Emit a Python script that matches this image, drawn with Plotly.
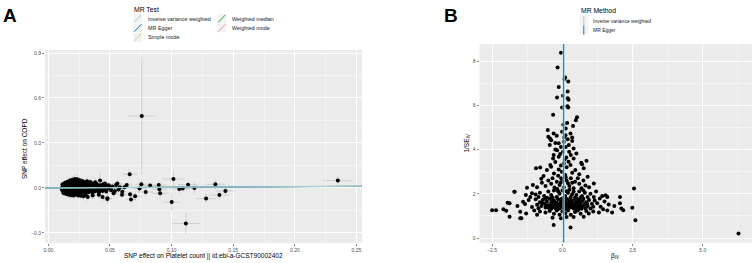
import plotly.graph_objects as go

# ---------------- Panel A data: SNP effects (exposure vs outcome) ----------------
cl_x = [0.011,0.011,0.012,0.012,0.012,0.013,0.013,0.013,0.014,0.014,
        0.014,0.015,0.015,0.015,0.016,0.016,0.016,0.017,0.017,0.017,
        0.018,0.018,0.018,0.019,0.019,0.019,0.020,0.020,0.020,0.021,
        0.021,0.021,0.022,0.022,0.022,0.023,0.023,0.023,0.024,0.024,
        0.024,0.025,0.025,0.025,0.026,0.026,0.026,0.027,0.027,0.027,
        0.028,0.028,0.028,0.029,0.029,0.030,0.030,0.030,0.031,0.031,
        0.032,0.032,0.033,0.033,0.034,0.034,0.035,0.035,0.036,0.036,
        0.037,0.038,0.038,0.039,0.040,0.040,0.041,0.042,0.042,0.043,
        0.044,0.045,0.046,0.047,0.048,0.049,0.050,0.0115,0.0125,0.0135,
        0.0145,0.0155,0.0165,0.0175,0.0185,0.0195,0.0205,0.0215,0.0225,0.0235,
        0.0245,0.0255,0.0265,0.0275,0.0285,0.0295,0.0305,0.0315,0.032,0.034,
        0.036,0.038,0.041,0.044,0.046,0.048,0.0125,0.0135,0.0155,0.0165,
        0.0175,0.0195,0.0205,0.0215,0.0225,0.0235,0.0245,0.0255,0.0265,0.0275,
        0.0285,0.0295,0.0305,0.0315,0.033,0.035,0.037,0.039,0.040,0.042,
        0.044,0.045,0.047,0.049,0.052,0.054,0.055,0.057,0.058,0.060,
        0.053,0.056,0.051,0.042,0.0145,0.0165,0.0185,0.0205,0.0225,0.0245]
cl_y = [0.002,-0.012,0.015,-0.025,0.005,-0.005,0.022,-0.018,0.010,-0.030,
        0.000,0.018,-0.012,0.030,-0.022,0.006,-0.004,0.026,-0.034,0.012,
        -0.015,0.002,0.035,-0.026,0.020,-0.008,0.008,-0.038,0.028,-0.018,
        0.000,0.045,0.015,-0.028,-0.006,0.032,-0.015,0.006,-0.035,0.022,
        -0.002,0.012,-0.022,0.040,-0.010,0.028,-0.042,0.004,0.018,-0.030,
        -0.016,0.034,0.000,0.012,-0.024,0.024,-0.006,-0.040,0.008,-0.018,
        0.030,-0.010,0.016,-0.028,0.002,0.025,-0.015,0.010,-0.032,0.020,
        -0.004,0.014,-0.022,0.028,-0.008,0.006,-0.030,0.018,-0.016,0.004,
        0.022,-0.012,0.010,-0.024,0.015,-0.004,0.008,0.025,-0.035,0.035,
        -0.040,0.042,-0.045,0.050,-0.048,0.055,-0.050,0.060,-0.045,0.058,
        -0.050,0.052,-0.052,0.046,-0.055,0.040,-0.048,0.045,-0.060,0.040,
        -0.050,0.038,-0.045,-0.060,0.030,-0.068,0.000,0.008,-0.008,0.016,
        -0.002,0.002,0.018,-0.012,0.024,-0.002,0.010,-0.030,0.010,-0.020,
        0.022,-0.012,0.016,-0.026,0.000,0.032,0.012,-0.012,0.020,0.000,
        -0.020,0.026,0.002,0.018,0.010,-0.020,0.020,-0.010,0.005,-0.025,
        -0.035,0.030,-0.015,0.050,0.020,-0.028,0.024,-0.030,0.038,-0.040]
cl_sx = [0.0018,0.0015,0.0020,0.0017,0.0016,0.0019,0.0021,0.0018,0.0020,0.0022,
         0.0017,0.0019,0.0016,0.0023,0.0020,0.0018,0.0017,0.0021,0.0024,0.0019,
         0.0020,0.0018,0.0025,0.0022,0.0019,0.0018,0.0021,0.0026,0.0023,0.0020,
         0.0019,0.0030,0.0021,0.0024,0.0020,0.0025,0.0022,0.0019,0.0027,0.0023,
         0.0021,0.0022,0.0024,0.0029,0.0021,0.0025,0.0030,0.0020,0.0023,0.0026,
         0.0023,0.0028,0.0021,0.0024,0.0026,0.0025,0.0022,0.0031,0.0023,0.0025,
         0.0029,0.0024,0.0026,0.0028,0.0024,0.0027,0.0026,0.0025,0.0030,0.0027,
         0.0026,0.0028,0.0030,0.0031,0.0027,0.0026,0.0032,0.0029,0.0030,0.0028,
         0.0031,0.0030,0.0029,0.0033,0.0031,0.0030,0.0032,0.0020,0.0022,0.0024,
         0.0024,0.0027,0.0026,0.0030,0.0028,0.0031,0.0029,0.0033,0.0030,0.0032,
         0.0031,0.0030,0.0033,0.0029,0.0034,0.0028,0.0032,0.0030,0.0035,0.0031,
         0.0033,0.0030,0.0034,0.0036,0.0031,0.0037,0.0016,0.0018,0.0019,0.0020,
         0.0019,0.0021,0.0020,0.0022,0.0021,0.0023,0.0022,0.0025,0.0023,0.0024,
         0.0025,0.0024,0.0026,0.0027,0.0025,0.0028,0.0027,0.0029,0.0028,0.0030,
         0.0031,0.0029,0.0030,0.0032,0.0036,0.0038,0.0040,0.0035,0.0037,0.0042,
         0.0038,0.0041,0.0036,0.0030,0.0019,0.0020,0.0021,0.0022,0.0023,0.0024]
cl_sy = [0.011,0.010,0.012,0.013,0.009,0.010,0.012,0.011,0.010,0.013,
         0.009,0.012,0.010,0.014,0.012,0.010,0.009,0.013,0.015,0.011,
         0.011,0.010,0.016,0.013,0.012,0.010,0.011,0.016,0.014,0.012,
         0.010,0.022,0.012,0.014,0.011,0.015,0.012,0.010,0.016,0.013,
         0.010,0.012,0.014,0.018,0.011,0.015,0.019,0.010,0.012,0.015,
         0.013,0.017,0.011,0.012,0.014,0.014,0.011,0.019,0.012,0.014,
         0.016,0.012,0.013,0.016,0.012,0.015,0.014,0.012,0.018,0.014,
         0.012,0.014,0.015,0.017,0.013,0.012,0.018,0.015,0.016,0.013,
         0.016,0.015,0.014,0.018,0.016,0.014,0.015,0.014,0.018,0.018,
         0.020,0.021,0.022,0.024,0.023,0.025,0.024,0.028,0.022,0.026,
         0.024,0.025,0.026,0.023,0.027,0.022,0.025,0.024,0.030,0.024,
         0.027,0.022,0.026,0.030,0.020,0.032,0.009,0.010,0.010,0.011,
         0.010,0.010,0.012,0.011,0.013,0.011,0.012,0.014,0.012,0.013,
         0.014,0.012,0.014,0.015,0.012,0.017,0.014,0.016,0.015,0.016,
         0.017,0.018,0.016,0.019,0.020,0.022,0.021,0.018,0.019,0.024,
         0.022,0.023,0.020,0.050,0.012,0.014,0.013,0.015,0.014,0.016]

sp_x = [0.0758,0.0660,0.1015,0.1001,0.1116,0.0479,0.0598,0.0704,0.0671,0.0663,
        0.0636,0.0617,0.0755,0.0740,0.0790,0.0826,0.0896,0.0901,0.0907,0.1063,
        0.1090,0.1134,0.1185,0.1280,0.1356,0.1388,0.1437,0.2349]
sp_y = [0.480,0.092,0.060,-0.094,-0.237,-0.073,-0.045,-0.055,-0.077,-0.042,
        0.020,0.004,0.024,-0.004,-0.027,0.016,0.020,-0.009,-0.036,-0.007,
        -0.004,0.022,0.000,-0.071,0.024,-0.047,-0.020,0.049]
sp_sx = [0.011,0.006,0.009,0.007,0.011,0.004,0.004,0.005,0.004,0.005,
         0.005,0.004,0.005,0.005,0.006,0.006,0.006,0.006,0.007,0.007,
         0.006,0.008,0.007,0.008,0.008,0.008,0.008,0.012]
sp_sy = [0.390,0.030,0.050,0.060,0.070,0.030,0.020,0.030,0.030,0.020,
         0.020,0.020,0.030,0.020,0.030,0.020,0.030,0.020,0.030,0.030,
         0.020,0.030,0.040,0.030,0.030,0.030,0.030,0.030]

methods_a = ["Inverse variance weighted", "MR Egger", "Simple mode",
             "Weighted median", "Weighted mode"]
colors_a = ["#a6cee3", "#1f78b4", "#b2df8a", "#33a02c", "#fb9a99"]
slopes_a = [0.045, 0.040, 0.047, 0.043, 0.046]
intercepts_a = [0.0, 0.0008, 0.0, 0.0, 0.0]

# ---------------- Panel B data: funnel plot ----------------
beta_iv = [-0.05,-0.17,0.10,0.21,0.07,-0.13,0.19,0.02,-0.19,0.19,
           0.22,0.18,0.21,-0.01,-0.33,0.52,0.48,0.17,0.38,0.03,
           -0.52,-0.31,-0.01,0.11,0.29,-0.50,-0.44,0.35,0.06,-0.20,
           -0.40,-0.45,-0.25,-0.13,0.19,0.35,0.23,0.12,-0.05,-0.19,
           0.02,0.24,0.50,-0.31,-0.13,0.14,0.40,-0.33,0.40,-0.25,
           0.05,-0.08,0.30,0.08,0.86,0.70,0.67,-0.25,0.05,0.29,
           -0.43,-0.94,-0.79,-0.55,-0.13,0.46,0.76,-0.40,0.15,-0.02,
           0.35,-0.30,0.60,-0.67,0.90,0.10,-0.15,0.22,-0.05,0.12,
           -0.73,1.12,2.55,-1.26,-0.90,-0.50,-0.35,-0.20,0.00,0.15,
           0.30,0.45,0.60,0.75,-0.60,-0.10,0.05,0.25,0.40,0.95,
           -0.40,-0.28,0.55,-0.75,0.20,-0.05,0.82,-1.05,0.12,0.68,
           -0.18,0.35,-1.70,-1.14,-0.95,1.60,1.54,1.42,1.33,2.05,
           1.12,-0.80,-0.65,-0.50,-0.40,-0.30,-0.20,-0.10,0.00,0.10,
           0.20,0.30,0.40,0.50,0.60,0.70,0.80,0.90,1.00,-1.30,
           -0.55,0.05,0.25,0.45,0.65,-0.85,1.20,-0.15,0.15,0.35,
           -0.35,0.75,-2.50,-2.36,-2.10,-2.00,-1.95,-1.88,-1.50,-1.40,
           -1.33,-1.08,-1.60,-1.20,2.49,2.10,2.05,2.17,1.77,1.65,
           1.36,1.24,1.00,1.85,1.50,1.15,1.45,-0.95,-0.90,-0.85,
           -0.80,-0.75,-0.70,-0.65,-0.60,-0.55,-0.50,-0.45,-0.40,-0.40,
           -0.35,-0.30,-0.30,-0.25,-0.20,-0.20,-0.15,-0.12,-0.10,-0.05,
           -0.02,0.00,0.03,0.05,0.08,0.10,0.12,0.15,0.18,0.20,
           0.22,0.25,0.28,0.30,0.33,0.35,0.38,0.40,0.43,0.45,
           0.48,0.50,0.55,0.58,0.60,0.65,0.70,0.72,0.78,0.82,
           0.85,0.90,0.95,1.05,1.10,-0.62,-0.48,-0.38,-0.28,-0.18,
           -0.08,0.02,0.12,0.20,0.27,0.37,0.47,0.52,0.62,0.68,
           -0.72,-0.58,-0.22,-0.02,0.07,0.32,0.42,0.57,0.75,0.88,
           -0.42,-0.12,0.15,-1.88,-1.50,-1.29,0.94,0.76,0.40,2.60,
           -0.80,-0.60,-0.45,-0.30,-0.20,-0.10,0.00,0.10,0.20,0.30,
           0.45,0.55,0.65,0.85,1.10,1.30,-1.00,-0.90,0.15,-0.05,
           1.60,-0.35,0.05,-0.31,0.29,6.27,-1.08,-1.46,-1.71,-0.04]
inv_se = [8.38,7.71,7.26,7.07,7.19,6.83,6.62,6.43,6.35,6.32,
          6.25,5.96,5.90,5.90,5.57,5.46,5.32,5.20,5.06,5.12,
          4.88,4.73,4.80,4.65,4.73,4.58,4.50,4.55,4.55,4.62,
          4.42,4.20,4.30,4.28,4.46,4.39,4.20,4.12,4.12,3.97,
          3.90,3.90,3.82,3.75,3.67,3.64,3.60,3.60,4.05,4.00,
          4.35,3.80,3.75,3.55,3.49,3.34,3.40,3.44,3.37,3.30,
          3.30,3.15,3.19,3.07,3.10,3.07,3.15,3.22,3.20,3.00,
          2.95,2.92,2.88,2.80,2.77,2.85,2.82,3.45,3.28,4.95,
          2.50,2.47,2.24,2.27,2.30,2.60,2.70,2.55,2.65,2.60,
          2.70,2.55,2.45,2.60,2.35,2.40,2.30,2.35,2.25,2.30,
          2.45,2.28,2.70,2.68,2.48,2.52,2.38,2.40,2.75,2.25,
          2.22,2.50,2.09,1.86,1.97,1.86,1.93,1.90,1.79,1.86,
          1.86,2.05,1.90,2.10,1.95,2.15,1.85,2.00,2.15,1.90,
          2.05,1.85,2.10,1.95,2.10,1.90,2.05,1.85,2.00,1.95,
          1.82,1.82,2.18,1.82,1.83,1.85,2.10,2.12,2.12,1.98,
          1.83,2.15,1.26,1.26,1.30,1.23,1.60,1.57,1.19,1.64,
          1.54,1.40,1.45,1.72,1.37,1.34,1.57,1.26,1.16,1.52,
          1.41,1.57,1.34,1.45,1.65,1.70,1.30,1.75,1.50,1.35,
          1.62,1.45,1.72,1.55,1.38,1.65,1.48,1.78,1.32,1.58,
          1.42,1.70,1.50,1.35,1.60,1.42,1.75,1.52,1.33,1.65,
          1.45,1.58,1.36,1.72,1.50,1.40,1.62,1.32,1.55,1.75,
          1.45,1.62,1.38,1.52,1.70,1.42,1.60,1.33,1.50,1.75,
          1.40,1.62,1.48,1.35,1.70,1.55,1.42,1.68,1.50,1.35,
          1.62,1.45,1.72,1.55,1.42,1.78,1.36,1.68,1.62,1.30,
          1.55,1.68,1.78,1.35,1.72,1.52,1.32,1.78,1.45,1.32,
          1.58,1.48,1.52,1.78,1.62,1.62,1.42,1.58,1.78,1.55,
          1.48,1.42,1.48,0.96,0.90,1.11,1.11,0.96,0.95,0.81,
          1.20,1.15,1.22,1.10,1.25,1.05,1.20,1.12,1.25,1.05,
          1.18,1.25,1.10,1.22,1.20,1.15,1.25,1.05,0.95,0.90,
          1.25,0.92,1.28,0.59,0.48,0.21,2.02,0.89,2.09,2.70]

methods_b = ["Inverse variance weighted", "MR Egger"]
colors_b = ["#a6cee3", "#1f78b4"]
estimates_b = [0.045, 0.040]

# ---------------- layout constants ----------------
W, H = 753, 263
FONT = "Liberation Sans"
BG = "#EBEBEB"
TICKC = "#4D4D4D"
XR_A = [-0.0027, 0.2545]
YR_A = [-0.367, 0.92]
XR_B = [-2.95, 6.75]
YR_B = [-0.21, 8.77]


def px(x):
    return x / W


def py(y):
    return 1 - y / H


fig = go.Figure()

# Panel A points with error bars
all_x = cl_x + sp_x
all_y = cl_y + sp_y
all_sx = cl_sx + sp_sx
all_sy = cl_sy + sp_sy
fig.add_trace(go.Scatter(
    x=all_x, y=all_y, mode="markers", xaxis="x", yaxis="y",
    marker=dict(color="black", size=4, line=dict(width=0)),
    error_x=dict(type="data", array=all_sx, color="#BEBEBE", thickness=0.6, width=0),
    error_y=dict(type="data", array=all_sy, color="#BEBEBE", thickness=0.6, width=0),
    showlegend=False, hoverinfo="skip"))

# Panel A regression lines (drawn so that IVW ends up on top)
order_a = [4, 3, 2, 1, 0]
for i in order_a:
    fig.add_trace(go.Scatter(
        x=XR_A, y=[intercepts_a[i] + slopes_a[i] * XR_A[0],
                   intercepts_a[i] + slopes_a[i] * XR_A[1]], mode="lines",
        xaxis="x", yaxis="y", line=dict(color=colors_a[i], width=1),
        name=methods_a[i], showlegend=False, hoverinfo="skip"))

# Panel B points
fig.add_trace(go.Scatter(
    x=beta_iv, y=inv_se, mode="markers", xaxis="x2", yaxis="y2",
    marker=dict(color="black", size=4, line=dict(width=0)),
    showlegend=False, hoverinfo="skip"))

# Panel B vertical lines
for m, c, e, w in zip(methods_b, colors_b, estimates_b, [2.2, 0.9]):
    fig.add_trace(go.Scatter(
        x=[e, e], y=YR_B, mode="lines", xaxis="x2", yaxis="y2",
        line=dict(color=c, width=w), name=m, showlegend=False, hoverinfo="skip"))

axis_common = dict(
    showgrid=True, gridcolor="white", gridwidth=1, zeroline=False,
    ticks="outside", ticklen=2, tickwidth=0.6, tickcolor="#333333",
    tickfont=dict(family=FONT, size=5, color=TICKC),
    showline=False, automargin=False,
)

fig.update_layout(
    width=W, height=H,
    margin=dict(l=0, r=0, t=0, b=0, autoexpand=False),
    paper_bgcolor="white", plot_bgcolor=BG,
    font=dict(family=FONT, color="black"),
    showlegend=False,
    xaxis=dict(domain=[px(45), px(362)], range=XR_A, anchor="y",
               tick0=0, dtick=0.05, tickformat=".2f",
               minor=dict(dtick=0.025, showgrid=True, gridcolor="white", gridwidth=0.4),
               **axis_common),
    yaxis=dict(domain=[py(243), py(50)], range=YR_A, anchor="x",
               tick0=0, dtick=0.3, tickformat=".1f",
               minor=dict(dtick=0.15, showgrid=True, gridcolor="white", gridwidth=0.4),
               **axis_common),
    xaxis2=dict(domain=[px(479.5), px(752)], range=XR_B, anchor="y2",
                tick0=0, dtick=2.5, tickformat=".1f",
                minor=dict(dtick=1.25, showgrid=True, gridcolor="white", gridwidth=0.4),
                **axis_common),
    yaxis2=dict(domain=[py(242.7), py(44)], range=YR_B, anchor="x2",
                tick0=0, dtick=2, tickformat="d",
                minor=dict(dtick=1, showgrid=True, gridcolor="white", gridwidth=0.4),
                **axis_common),
)

shapes = []
annotations = []

# axis titles
title_font = dict(family=FONT, size=6.5, color="black")
annotations += [
    dict(x=px(203.5), y=py(256.3), xref="paper", yref="paper", showarrow=False,
         text="SNP effect on Platelet count || id:ebi-a-GCST90002402",
         xanchor="center", yanchor="middle", font=title_font),
    dict(x=px(24.5), y=py(148.5), xref="paper", yref="paper", showarrow=False,
         text="SNP effect on COPD", textangle=-90,
         xanchor="center", yanchor="middle", font=title_font),
    dict(x=px(615.5), y=py(255.5), xref="paper", yref="paper", showarrow=False,
         text="β<sub>IV</sub>", xanchor="center", yanchor="middle", font=title_font),
    dict(x=px(467.3), y=py(143.3), xref="paper", yref="paper", showarrow=False,
         text="1/SE<sub>IV</sub>", textangle=-90,
         xanchor="center", yanchor="middle", font=title_font),
]

# panel labels
for lab, xx in (("A", 9.5), ("B", 450.5)):
    annotations.append(dict(x=px(xx), y=py(15.5), xref="paper", yref="paper",
                            text="<b>%s</b>" % lab, showarrow=False,
                            font=dict(family=FONT, size=19, color="black"),
                            xanchor="center", yanchor="middle"))

# Legend A (MR Test) drawn by hand to mimic ggplot keys
annotations.append(dict(x=px(131.5), y=py(9.5), xref="paper", yref="paper",
                        text="MR Test", showarrow=False, xanchor="left", yanchor="middle",
                        font=dict(family=FONT, size=6.8, color="black")))
key_pos_a = [(133.3, 14.0), (133.3, 23.3), (133.3, 32.6), (217.3, 14.0), (217.3, 23.3)]
for (kx, ky), m, c in zip(key_pos_a, methods_a, colors_a):
    kw, kh = 9.0, 9.3
    shapes.append(dict(type="rect", xref="paper", yref="paper",
                       x0=px(kx), x1=px(kx + kw), y0=py(ky + kh), y1=py(ky),
                       fillcolor="#F2F2F2", line=dict(width=0.5, color="white")))
    shapes.append(dict(type="line", xref="paper", yref="paper",
                       x0=px(kx + 0.8), x1=px(kx + kw - 0.8), y0=py(ky + kh - 0.8), y1=py(ky + 0.8),
                       line=dict(color=c, width=1)))
    annotations.append(dict(x=px(kx + kw + 3.5), y=py(ky + kh / 2), xref="paper", yref="paper",
                            text=m, showarrow=False, xanchor="left", yanchor="middle",
                            font=dict(family=FONT, size=5.4, color="#1A1A1A")))

# Legend B (MR Method)
annotations.append(dict(x=px(578.5), y=py(10.7), xref="paper", yref="paper",
                        text="MR Method", showarrow=False, xanchor="left", yanchor="middle",
                        font=dict(family=FONT, size=6.8, color="black")))
key_pos_b = [(579.3, 16.0), (579.3, 25.3)]
for (kx, ky), m, c in zip(key_pos_b, methods_b, colors_b):
    kw, kh = 9.0, 9.3
    shapes.append(dict(type="rect", xref="paper", yref="paper",
                       x0=px(kx), x1=px(kx + kw), y0=py(ky + kh), y1=py(ky),
                       fillcolor="#F2F2F2", line=dict(width=0.5, color="white")))
    shapes.append(dict(type="line", xref="paper", yref="paper",
                       x0=px(kx + kw / 2), x1=px(kx + kw / 2), y0=py(ky + kh), y1=py(ky),
                       line=dict(color=c, width=1)))
    annotations.append(dict(x=px(kx + kw + 3.0), y=py(ky + kh / 2), xref="paper", yref="paper",
                            text=m, showarrow=False, xanchor="left", yanchor="middle",
                            font=dict(family=FONT, size=5.0, color="#1A1A1A")))

fig.update_layout(shapes=shapes, annotations=annotations)

fig.write_html("out.html", config={"displayModeBar": False, "staticPlot": True},
               post_script="document.body.style.margin='0px';")
